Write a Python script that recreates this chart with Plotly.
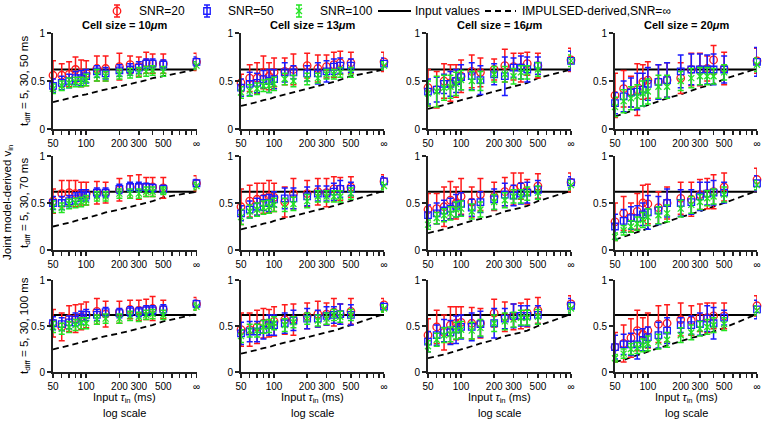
import plotly.graph_objects as go

# ---------------- data ----------------
TAU_IN = [50, 60, 70, 80, 90, 100, 125, 150, 200, 250, 300, 350, 400, 500, 1000]  # 1000 = infinity
TICK_VALS = [50, 100, 200, 300, 500, 1000]
TICK_TEXT = ['50', '100', '200', '300', '500', '∞']
MINOR_TICK_VALS = [60, 70, 80, 90, 400, 600, 700, 800, 900]
Y_TICKS = [0, 0.5, 1]
Y_TICK_TEXT = ['0', '0.5', '1']
INPUT_VALUE = 0.62
CELL_SIZES = ['10', '13', '16', '20']
T_DIFF = ['5, 30, 50 ms', '5, 30, 70 ms', '5, 30, 100 ms']
SERIES = ['SNR=20', 'SNR=50', 'SNR=100']

# row 1 (t_diff = 5,30,50 ms)
R1C1_SNR20 = [0.56,0.56,0.57,0.62,0.58,0.58,0.63,0.63,0.65,0.67,0.65,0.69,0.68,0.68,0.70]
R1C1_SNR20_ERR = [0.15,0.12,0.13,0.13,0.14,0.13,0.13,0.13,0.14,0.09,0.10,0.11,0.10,0.10,0.09]
R1C1_SNR50 = [0.45,0.48,0.50,0.53,0.53,0.55,0.60,0.58,0.61,0.62,0.64,0.68,0.68,0.67,0.70]
R1C1_SNR50_ERR = [0.07,0.07,0.07,0.07,0.08,0.07,0.06,0.06,0.06,0.06,0.06,0.05,0.05,0.05,0.05]
R1C1_SNR100 = [0.42,0.45,0.48,0.49,0.49,0.51,0.56,0.55,0.57,0.58,0.59,0.60,0.61,0.60,0.66]
R1C1_SNR100_ERR = [0.05,0.05,0.05,0.05,0.05,0.06,0.06,0.05,0.05,0.05,0.05,0.05,0.05,0.05,0.04]
R1C1_IMPULSED = [0.28,0.30,0.32,0.34,0.35,0.36,0.39,0.41,0.44,0.47,0.49,0.51,0.53,0.55,0.62]

R1C2_SNR20 = [0.48,0.53,0.53,0.59,0.55,0.59,0.60,0.62,0.66,0.63,0.65,0.67,0.69,0.69,0.70]
R1C2_SNR20_ERR = [0.09,0.14,0.16,0.17,0.14,0.15,0.14,0.16,0.13,0.14,0.12,0.13,0.12,0.11,0.10]
R1C2_SNR50 = [0.43,0.47,0.48,0.52,0.50,0.52,0.59,0.59,0.58,0.58,0.60,0.65,0.66,0.66,0.68]
R1C2_SNR50_ERR = [0.09,0.12,0.10,0.09,0.12,0.10,0.10,0.07,0.08,0.11,0.11,0.08,0.08,0.07,0.06]
R1C2_SNR100 = [0.38,0.40,0.42,0.45,0.45,0.47,0.52,0.50,0.52,0.53,0.57,0.57,0.59,0.59,0.66]
R1C2_SNR100_ERR = [0.06,0.06,0.06,0.06,0.07,0.07,0.06,0.06,0.06,0.05,0.05,0.05,0.05,0.05,0.04]
R1C2_IMPULSED = [0.24,0.26,0.28,0.30,0.31,0.33,0.36,0.38,0.42,0.45,0.47,0.49,0.51,0.55,0.62]

R1C3_SNR20 = [0.43,0.41,0.50,0.48,0.50,0.55,0.60,0.59,0.62,0.66,0.65,0.64,0.68,0.66,0.72]
R1C3_SNR20_ERR = [0.19,0.19,0.18,0.19,0.17,0.17,0.17,0.15,0.11,0.17,0.14,0.15,0.12,0.13,0.12]
R1C3_SNR50 = [0.39,0.41,0.47,0.47,0.50,0.54,0.55,0.51,0.57,0.55,0.64,0.64,0.62,0.66,0.71]
R1C3_SNR50_ERR = [0.13,0.13,0.10,0.13,0.12,0.13,0.14,0.15,0.11,0.20,0.10,0.12,0.13,0.09,0.10]
R1C3_SNR100 = [0.37,0.39,0.43,0.44,0.47,0.51,0.50,0.50,0.57,0.57,0.55,0.59,0.59,0.62,0.71]
R1C3_SNR100_ERR = [0.13,0.16,0.13,0.12,0.12,0.10,0.10,0.10,0.08,0.08,0.08,0.07,0.07,0.07,0.06]
R1C3_IMPULSED = [0.21,0.23,0.25,0.27,0.29,0.30,0.33,0.35,0.39,0.42,0.44,0.46,0.48,0.53,0.62]

R1C4_SNR20 = [0.35,0.42,0.39,0.41,0.49,0.51,0.49,0.51,0.53,0.62,0.62,0.63,0.72,0.63,0.71]
R1C4_SNR20_ERR = [0.23,0.19,0.16,0.27,0.18,0.19,0.18,0.18,0.16,0.17,0.17,0.13,0.15,0.17,0.13]
R1C4_SNR50 = [0.27,0.34,0.38,0.39,0.41,0.47,0.49,0.51,0.60,0.62,0.62,0.62,0.62,0.62,0.70]
R1C4_SNR50_ERR = [0.11,0.16,0.15,0.19,0.17,0.17,0.18,0.18,0.17,0.16,0.16,0.15,0.16,0.14,0.15]
R1C4_SNR100 = [0.23,0.29,0.32,0.34,0.37,0.39,0.44,0.44,0.50,0.53,0.55,0.55,0.55,0.59,0.67]
R1C4_SNR100_ERR = [0.10,0.12,0.12,0.12,0.13,0.13,0.12,0.12,0.10,0.10,0.09,0.09,0.08,0.08,0.07]
R1C4_IMPULSED = [0.13,0.16,0.18,0.21,0.23,0.25,0.29,0.32,0.36,0.40,0.43,0.45,0.47,0.52,0.63]

# row 2 (t_diff = 5,30,70 ms)
R2C1_SNR20 = [0.52,0.60,0.61,0.60,0.60,0.60,0.61,0.61,0.64,0.67,0.67,0.67,0.67,0.66,0.71]
R2C1_SNR20_ERR = [0.13,0.14,0.13,0.14,0.12,0.12,0.12,0.11,0.12,0.12,0.13,0.10,0.10,0.11,0.08]
R2C1_SNR50 = [0.50,0.50,0.52,0.55,0.58,0.58,0.61,0.61,0.65,0.67,0.67,0.67,0.66,0.65,0.71]
R2C1_SNR50_ERR = [0.07,0.07,0.06,0.06,0.06,0.06,0.05,0.05,0.05,0.05,0.05,0.04,0.04,0.04,0.04]
R2C1_SNR100 = [0.46,0.45,0.49,0.50,0.51,0.53,0.57,0.57,0.60,0.60,0.60,0.62,0.62,0.63,0.68]
R2C1_SNR100_ERR = [0.06,0.05,0.05,0.05,0.05,0.05,0.05,0.05,0.05,0.05,0.05,0.05,0.05,0.04,0.04]
R2C1_IMPULSED = [0.25,0.27,0.29,0.31,0.33,0.34,0.37,0.40,0.43,0.46,0.48,0.50,0.52,0.56,0.62]

R2C2_SNR20 = [0.46,0.52,0.54,0.55,0.57,0.56,0.51,0.60,0.60,0.62,0.61,0.65,0.65,0.67,0.73]
R2C2_SNR20_ERR = [0.19,0.17,0.17,0.16,0.17,0.15,0.16,0.16,0.14,0.14,0.15,0.13,0.12,0.11,0.07]
R2C2_SNR50 = [0.39,0.43,0.46,0.50,0.50,0.54,0.55,0.55,0.57,0.60,0.60,0.62,0.65,0.65,0.73]
R2C2_SNR50_ERR = [0.08,0.09,0.09,0.08,0.09,0.08,0.11,0.11,0.10,0.08,0.08,0.09,0.09,0.07,0.05]
R2C2_SNR100 = [0.35,0.41,0.43,0.45,0.46,0.48,0.48,0.49,0.52,0.57,0.57,0.57,0.57,0.60,0.68]
R2C2_SNR100_ERR = [0.08,0.07,0.07,0.07,0.07,0.07,0.07,0.07,0.07,0.06,0.06,0.06,0.06,0.06,0.04]
R2C2_IMPULSED = [0.22,0.24,0.26,0.28,0.29,0.31,0.34,0.36,0.40,0.43,0.45,0.47,0.49,0.53,0.63]

R2C3_SNR20 = [0.43,0.44,0.46,0.53,0.50,0.57,0.51,0.59,0.57,0.62,0.65,0.68,0.62,0.68,0.72]
R2C3_SNR20_ERR = [0.17,0.16,0.21,0.20,0.17,0.19,0.16,0.17,0.15,0.15,0.17,0.14,0.13,0.13,0.10]
R2C3_SNR50 = [0.37,0.39,0.42,0.44,0.47,0.49,0.45,0.51,0.54,0.59,0.58,0.60,0.61,0.64,0.72]
R2C3_SNR50_ERR = [0.11,0.11,0.11,0.11,0.12,0.12,0.09,0.11,0.11,0.12,0.11,0.11,0.11,0.10,0.06]
R2C3_SNR100 = [0.27,0.34,0.37,0.39,0.43,0.44,0.41,0.43,0.51,0.53,0.57,0.57,0.60,0.61,0.69]
R2C3_SNR100_ERR = [0.05,0.06,0.07,0.07,0.08,0.08,0.08,0.08,0.08,0.08,0.07,0.07,0.07,0.07,0.05]
R2C3_IMPULSED = [0.18,0.20,0.22,0.24,0.26,0.28,0.31,0.33,0.37,0.41,0.43,0.45,0.47,0.52,0.63]

R2C4_SNR20 = [0.30,0.39,0.35,0.41,0.50,0.49,0.45,0.50,0.55,0.54,0.59,0.60,0.62,0.67,0.75]
R2C4_SNR20_ERR = [0.20,0.18,0.15,0.19,0.19,0.21,0.17,0.17,0.17,0.18,0.16,0.16,0.18,0.15,0.12]
R2C4_SNR50 = [0.25,0.31,0.34,0.34,0.38,0.40,0.42,0.50,0.50,0.51,0.57,0.60,0.61,0.61,0.71]
R2C4_SNR50_ERR = [0.13,0.12,0.12,0.13,0.12,0.18,0.15,0.15,0.14,0.13,0.15,0.12,0.13,0.11,0.08]
R2C4_SNR100 = [0.14,0.21,0.25,0.28,0.32,0.35,0.37,0.39,0.44,0.48,0.51,0.55,0.57,0.59,0.69]
R2C4_SNR100_ERR = [0.04,0.05,0.06,0.07,0.08,0.09,0.09,0.09,0.09,0.09,0.08,0.08,0.08,0.08,0.05]
R2C4_IMPULSED = [0.11,0.14,0.16,0.19,0.21,0.23,0.27,0.30,0.35,0.38,0.41,0.44,0.46,0.50,0.63]

# row 3 (t_diff = 5,30,100 ms)
R3C1_SNR20 = [0.53,0.49,0.58,0.58,0.60,0.62,0.66,0.63,0.65,0.68,0.67,0.68,0.69,0.68,0.74]
R3C1_SNR20_ERR = [0.15,0.15,0.14,0.15,0.14,0.14,0.14,0.14,0.12,0.10,0.11,0.11,0.13,0.10,0.07]
R3C1_SNR50 = [0.53,0.52,0.54,0.57,0.59,0.62,0.62,0.65,0.64,0.66,0.65,0.67,0.67,0.68,0.74]
R3C1_SNR50_ERR = [0.07,0.07,0.07,0.07,0.07,0.06,0.06,0.05,0.05,0.05,0.05,0.05,0.05,0.05,0.04]
R3C1_SNR100 = [0.49,0.47,0.49,0.51,0.53,0.53,0.57,0.58,0.58,0.61,0.60,0.62,0.63,0.62,0.71]
R3C1_SNR100_ERR = [0.06,0.06,0.06,0.06,0.06,0.06,0.05,0.05,0.05,0.05,0.05,0.05,0.05,0.05,0.04]
R3C1_IMPULSED = [0.245,0.27,0.29,0.31,0.32,0.34,0.37,0.39,0.42,0.45,0.47,0.49,0.51,0.55,0.63]

R3C2_SNR20 = [0.46,0.46,0.49,0.53,0.53,0.55,0.57,0.57,0.61,0.63,0.63,0.65,0.63,0.66,0.73]
R3C2_SNR20_ERR = [0.18,0.18,0.18,0.16,0.15,0.16,0.16,0.17,0.14,0.14,0.12,0.15,0.11,0.14,0.07]
R3C2_SNR50 = [0.42,0.44,0.44,0.46,0.51,0.51,0.53,0.56,0.58,0.58,0.61,0.62,0.63,0.62,0.71]
R3C2_SNR50_ERR = [0.12,0.11,0.11,0.10,0.11,0.11,0.11,0.11,0.11,0.09,0.10,0.09,0.11,0.11,0.04]
R3C2_SNR100 = [0.39,0.45,0.45,0.49,0.50,0.53,0.51,0.54,0.58,0.56,0.58,0.62,0.60,0.62,0.69]
R3C2_SNR100_ERR = [0.07,0.07,0.07,0.07,0.07,0.07,0.07,0.06,0.06,0.06,0.06,0.06,0.06,0.06,0.04]
R3C2_IMPULSED = [0.20,0.22,0.24,0.26,0.27,0.29,0.32,0.34,0.38,0.41,0.43,0.45,0.47,0.51,0.63]

R3C3_SNR20 = [0.40,0.49,0.43,0.51,0.53,0.54,0.53,0.53,0.64,0.60,0.60,0.61,0.64,0.67,0.74]
R3C3_SNR20_ERR = [0.18,0.18,0.19,0.20,0.18,0.17,0.17,0.16,0.15,0.16,0.14,0.14,0.15,0.14,0.09]
R3C3_SNR50 = [0.33,0.40,0.45,0.43,0.46,0.49,0.49,0.52,0.53,0.58,0.61,0.61,0.61,0.62,0.72]
R3C3_SNR50_ERR = [0.11,0.11,0.12,0.13,0.15,0.13,0.15,0.14,0.16,0.11,0.13,0.11,0.11,0.10,0.08]
R3C3_SNR100 = [0.28,0.35,0.40,0.41,0.45,0.46,0.45,0.48,0.53,0.55,0.57,0.59,0.59,0.60,0.69]
R3C3_SNR100_ERR = [0.06,0.07,0.08,0.08,0.09,0.09,0.09,0.09,0.09,0.09,0.08,0.08,0.08,0.08,0.05]
R3C3_IMPULSED = [0.15,0.17,0.19,0.21,0.23,0.25,0.28,0.31,0.35,0.39,0.41,0.43,0.45,0.50,0.63]

R3C4_SNR20 = [0.27,0.31,0.37,0.45,0.41,0.45,0.52,0.53,0.57,0.56,0.59,0.59,0.61,0.61,0.72]
R3C4_SNR20_ERR = [0.16,0.20,0.21,0.22,0.18,0.19,0.20,0.20,0.18,0.16,0.15,0.16,0.14,0.14,0.11]
R3C4_SNR50 = [0.27,0.30,0.30,0.30,0.35,0.38,0.40,0.45,0.51,0.51,0.52,0.58,0.53,0.59,0.68]
R3C4_SNR50_ERR = [0.13,0.11,0.12,0.16,0.12,0.11,0.14,0.14,0.08,0.10,0.12,0.14,0.17,0.08,0.10]
R3C4_SNR100 = [0.15,0.20,0.25,0.26,0.29,0.31,0.33,0.35,0.40,0.43,0.47,0.49,0.51,0.52,0.67]
R3C4_SNR100_ERR = [0.04,0.05,0.06,0.06,0.07,0.08,0.08,0.08,0.08,0.08,0.08,0.08,0.08,0.07,0.05]
R3C4_IMPULSED = [0.11,0.13,0.16,0.18,0.20,0.22,0.26,0.29,0.33,0.37,0.39,0.42,0.44,0.48,0.63]

G = globals()

# ---------------- styling / layout ----------------
W, H = 763, 421
FONT = 'Liberation Sans, Arial, sans-serif'
COLORS = ['#ff1a1a', '#1a1aff', '#22e622']
SYMBOLS = ['circle-open', 'square-open', 'x-thin-open']
SIZES = [7.5, 6.5, 6]
AX_COLOR = '#222222'

COL_PX = [(53, 196.5), (241, 384), (428, 571), (615, 757)]
ROW_PX = [(33, 129), (156, 250), (280, 372)]  # (y of 1, y of 0)


def px_x(p):
    return p / W


def px_y(p):
    return 1 - p / H


fig = go.Figure()
layout = dict(
    template='none',
    width=W, height=H, margin=dict(l=0, r=0, t=0, b=0, autoexpand=False),
    paper_bgcolor='white', plot_bgcolor='white', showlegend=False,
    font=dict(family=FONT, size=11, color='black'),
)
annotations = []

idx = 0
for r in range(3):
    for c in range(4):
        idx += 1
        xa = 'x' if idx == 1 else f'x{idx}'
        ya = 'y' if idx == 1 else f'y{idx}'
        xkey = 'xaxis' if idx == 1 else f'xaxis{idx}'
        ykey = 'yaxis' if idx == 1 else f'yaxis{idx}'
        x0, x1 = COL_PX[c]
        ytop, ybot = ROW_PX[r]
        layout[xkey] = dict(
            domain=[px_x(x0), px_x(x1)], anchor=ya, type='log', automargin=False,
            range=[1.69897, 3.0], showgrid=False, zeroline=False,
            showline=True, linecolor=AX_COLOR, linewidth=2,
            ticks='outside', ticklen=4, tickwidth=1.5, tickcolor=AX_COLOR,
            tickmode='array', tickvals=TICK_VALS, ticktext=TICK_TEXT, tickangle=0,
            minor=dict(tickmode='array', tickvals=MINOR_TICK_VALS, ticks='outside',
                       ticklen=4, tickwidth=1.5, tickcolor=AX_COLOR, showgrid=False),
            tickfont=dict(family=FONT, size=10, color='black'),
        )
        layout[ykey] = dict(
            domain=[px_y(ybot), px_y(ytop)], anchor=xa, range=[0, 1], automargin=False,
            showgrid=False, zeroline=False, showline=True,
            linecolor=AX_COLOR, linewidth=2, ticks='outside', ticklen=4,
            tickwidth=1.5, tickcolor=AX_COLOR, tickmode='array', tickvals=Y_TICKS,
            ticktext=Y_TICK_TEXT, tickfont=dict(family=FONT, size=10, color='black'),
        )
        pre = f'R{r+1}C{c+1}'
        # input values (solid)
        fig.add_trace(go.Scatter(
            x=[TAU_IN[0], TAU_IN[-1]], y=[INPUT_VALUE, INPUT_VALUE], mode='lines',
            line=dict(color='black', width=2), xaxis=xa, yaxis=ya, hoverinfo='skip'))
        # IMPULSED-derived (dashed)
        fig.add_trace(go.Scatter(
            x=TAU_IN, y=G[pre + '_IMPULSED'], mode='lines',
            line=dict(color='black', width=1.8, dash='6px,4px'),
            xaxis=xa, yaxis=ya, hoverinfo='skip'))
        for s, snr in enumerate(['SNR20', 'SNR50', 'SNR100']):
            fig.add_trace(go.Scatter(
                x=TAU_IN, y=G[f'{pre}_{snr}'], mode='markers', name=SERIES[s],
                marker=dict(symbol=SYMBOLS[s], size=SIZES[s], color=COLORS[s],
                            line=dict(color=COLORS[s], width=1.3)),
                error_y=dict(type='data', array=G[f'{pre}_{snr}_ERR'], visible=True,
                             color=COLORS[s], thickness=1.5, width=3),
                cliponaxis=False, xaxis=xa, yaxis=ya))

# column titles and bottom labels
for c in range(4):
    cx = px_x((COL_PX[c][0] + COL_PX[c][1]) / 2)
    annotations.append(dict(
        x=cx, y=px_y(25), xref='paper', yref='paper', showarrow=False,
        text=f'<b>Cell size = {CELL_SIZES[c]}<i>μ</i>m</b>',
        font=dict(family=FONT, size=11, color='black'), xanchor='center', yanchor='middle'))
    annotations.append(dict(
        x=cx, y=px_y(398), xref='paper', yref='paper', showarrow=False,
        text='Input <i>τ</i><sub>in</sub> (ms)',
        font=dict(family=FONT, size=11, color='black'), xanchor='center', yanchor='middle'))
    annotations.append(dict(
        x=cx, y=px_y(413), xref='paper', yref='paper', showarrow=False,
        text='log scale', font=dict(family=FONT, size=11, color='black'),
        xanchor='center', yanchor='middle'))

# row labels
for r in range(3):
    cy = px_y((ROW_PX[r][0] + ROW_PX[r][1]) / 2)
    annotations.append(dict(
        x=px_x(25), y=cy, xref='paper', yref='paper', showarrow=False,
        text=f't<sub>diff</sub> = {T_DIFF[r]}', textangle=-90,
        font=dict(family=FONT, size=11.5, color='black'), xanchor='center', yanchor='middle'))
annotations.append(dict(
    x=px_x(8), y=px_y(202), xref='paper', yref='paper', showarrow=False,
    text='Joint model-derived v<sub>in</sub>', textangle=-90,
    font=dict(family=FONT, size=11.5, color='black'), xanchor='center', yanchor='middle'))

# ---------------- manual legend (pixel axis strip at top) ----------------
LEG_H = 24
LEG_FONT = 12
layout['xaxis13'] = dict(domain=[0, 1], range=[0, W], visible=False, anchor='y13',
                         fixedrange=True, automargin=False)
layout['yaxis13'] = dict(domain=[px_y(LEG_H), 1], range=[LEG_H, 0], visible=False,
                         anchor='x13', fixedrange=True, automargin=False)
LEG_Y = 11
LEG_MARK_X = [117, 207, 299]
LEG_TEXT_X = [137, 226, 318]
for s in range(3):
    fig.add_trace(go.Scatter(
        x=[LEG_MARK_X[s]], y=[LEG_Y], mode='markers',
        marker=dict(symbol=SYMBOLS[s], size=SIZES[s], color=COLORS[s],
                    line=dict(color=COLORS[s], width=1.3)),
        error_y=dict(type='data', array=[6], visible=True, color=COLORS[s], thickness=1.5, width=3),
        cliponaxis=False, xaxis='x13', yaxis='y13', hoverinfo='skip'))
    annotations.append(dict(
        x=px_x(LEG_TEXT_X[s]), y=px_y(LEG_Y), xref='paper', yref='paper', showarrow=False,
        text=SERIES[s], font=dict(family=FONT, size=LEG_FONT, color='black'),
        xanchor='left', yanchor='middle'))
fig.add_trace(go.Scatter(x=[378, 411], y=[LEG_Y, LEG_Y], mode='lines',
                         line=dict(color='black', width=2), xaxis='x13', yaxis='y13',
                         hoverinfo='skip', cliponaxis=False))
annotations.append(dict(x=px_x(413), y=px_y(LEG_Y), xref='paper', yref='paper', showarrow=False,
                        text='Input values', font=dict(family=FONT, size=LEG_FONT, color='black'),
                        xanchor='left', yanchor='middle'))
fig.add_trace(go.Scatter(x=[485, 516], y=[LEG_Y, LEG_Y], mode='lines',
                         line=dict(color='black', width=2, dash='6px,4px'),
                         xaxis='x13', yaxis='y13', hoverinfo='skip', cliponaxis=False))
annotations.append(dict(x=px_x(520), y=px_y(LEG_Y), xref='paper', yref='paper', showarrow=False,
                        text='IMPULSED-derived,SNR=∞',
                        font=dict(family=FONT, size=LEG_FONT, color='black'),
                        xanchor='left', yanchor='middle'))

layout['annotations'] = annotations
fig.update_layout(**layout)
fig.write_html(
    'out.html',
    config={'displayModeBar': False, 'staticPlot': True},
    post_script="document.body.style.margin='0px';document.body.style.padding='0px';"
                "document.body.style.overflow='hidden';",
)
